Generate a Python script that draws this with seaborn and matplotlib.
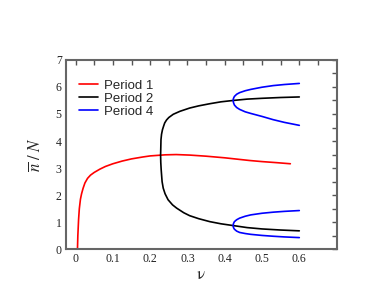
import numpy as np
import pandas as pd
import matplotlib
matplotlib.use("Agg")
import matplotlib.pyplot as plt
import seaborn as sns
from matplotlib.ticker import MultipleLocator, FixedLocator

# ---- data ----
nu_p1 = [0.005, 0.006, 0.008, 0.010, 0.013, 0.016, 0.020, 0.025, 0.032, 0.040, 0.050,
         0.065, 0.080, 0.100, 0.125, 0.150, 0.180, 0.200, 0.240, 0.270, 0.307, 0.350,
         0.400, 0.440, 0.467, 0.500, 0.540, 0.576]
n_p1 = [0.00, 0.50, 1.10, 1.50, 1.85, 2.05, 2.25, 2.45, 2.62, 2.74, 2.84,
        2.96, 3.06, 3.16, 3.26, 3.34, 3.41, 3.45, 3.49, 3.50, 3.48, 3.44,
        3.38, 3.32, 3.28, 3.24, 3.20, 3.16]

# period 2: upper branch (from right to fork) then lower branch (fork to right)
nu_p2 = [0.600, 0.550, 0.500, 0.460, 0.4225, 0.390, 0.360, 0.330, 0.306, 0.280, 0.262,
         0.250, 0.244, 0.239, 0.236, 0.233, 0.2305, 0.229, 0.2285, 0.228,
         0.2285, 0.2295, 0.2306, 0.232, 0.235, 0.240, 0.248, 0.260, 0.271, 0.290, 0.306,
         0.330, 0.360, 0.390, 0.4225, 0.460, 0.500, 0.550, 0.600]
n_p2 = [5.63, 5.61, 5.58, 5.55, 5.50, 5.45, 5.38, 5.30, 5.22, 5.10, 4.99,
        4.87, 4.78, 4.67, 4.55, 4.42, 4.25, 4.05, 3.75, 3.47,
        3.20, 2.95, 2.75, 2.50, 2.26, 2.05, 1.83, 1.64, 1.52, 1.35, 1.24,
        1.13, 1.02, 0.94, 0.875, 0.80, 0.75, 0.71, 0.68]

# period 4: upper fork and lower fork
nu_p4a = [0.600, 0.560, 0.530, 0.500, 0.470, 0.455, 0.440, 0.432, 0.426, 0.4235, 0.4225,
          0.4235, 0.426, 0.432, 0.440, 0.455, 0.470, 0.500, 0.530, 0.560, 0.600]
n_p4a = [6.13, 6.09, 6.05, 5.99, 5.91, 5.86, 5.79, 5.73, 5.65, 5.58, 5.50,
         5.42, 5.33, 5.24, 5.17, 5.08, 5.02, 4.91, 4.79, 4.69, 4.58]
nu_p4b = [0.600, 0.560, 0.530, 0.500, 0.470, 0.455, 0.440, 0.432, 0.426, 0.4235, 0.4225,
          0.4235, 0.426, 0.432, 0.440, 0.455, 0.470, 0.500, 0.530, 0.560, 0.600]
n_p4b = [1.43, 1.40, 1.37, 1.33, 1.27, 1.22, 1.15, 1.09, 1.02, 0.95, 0.875,
         0.80, 0.74, 0.67, 0.62, 0.58, 0.55, 0.51, 0.48, 0.455, 0.43]

labels = ["Period 1", "Period 2", "Period 4"]
colors = ["#ff0000", "#000000", "#0000ff"]

frames = [
    pd.DataFrame({"nu": nu_p1, "n": n_p1, "period": labels[0], "seg": "a"}),
    pd.DataFrame({"nu": nu_p2, "n": n_p2, "period": labels[1], "seg": "b"}),
    pd.DataFrame({"nu": nu_p4a, "n": n_p4a, "period": labels[2], "seg": "c"}),
    pd.DataFrame({"nu": nu_p4b, "n": n_p4b, "period": labels[2], "seg": "d"}),
]
df = pd.concat(frames, ignore_index=True)

sns.set_style("white")
plt.rcParams["font.family"] = ["Liberation Serif", "DejaVu Serif"]
plt.rcParams["mathtext.fontset"] = "stix"

fig = plt.figure(figsize=(3.9, 3.01), dpi=100)
ax = fig.add_axes([0.169, 0.172, 0.694, 0.629])

sns.lineplot(data=df, x="nu", y="n", hue="period", units="seg", estimator=None,
             sort=False, palette=dict(zip(labels, colors)), linewidth=1.2, ax=ax)

ax.set_xlim(-0.026, 0.7)
ax.set_ylim(0, 7)
ax.xaxis.set_major_locator(FixedLocator([0, 0.1, 0.2, 0.3, 0.4, 0.5, 0.6]))
ax.xaxis.set_minor_locator(FixedLocator([0.05, 0.15, 0.25, 0.35, 0.45, 0.55, 0.65]))
ax.yaxis.set_major_locator(MultipleLocator(1))
ax.yaxis.set_minor_locator(MultipleLocator(0.5))
ax.set_xticklabels(["0", "0.1", "0.2", "0.3", "0.4", "0.5", "0.6"])
ax.tick_params(which="both", direction="in", top=True, right=True,
               length=3.5, width=1.0, color="#555555", labelsize=8.5,
               labelcolor="#222222", pad=3)
ax.tick_params(which="both", labelright=False, labeltop=False)
for s in ax.spines.values():
    s.set_color("#666666")
    s.set_linewidth(1.5)
    s.set_visible(True)

ax.set_xlabel(r"$\mathrm{\nu}$", fontsize=12, labelpad=1)
ax.set_ylabel(r"$\overline{n}\ /\ N$", fontsize=12, labelpad=8)

leg = ax.legend(loc="upper left", bbox_to_anchor=(0.0, 0.965), frameon=False,
                handlelength=1.4, prop={"family": "Liberation Sans", "size": 9.5},
                labelspacing=0.05, borderaxespad=0.6, handletextpad=0.45)

fig.savefig("out.png", dpi=100)
